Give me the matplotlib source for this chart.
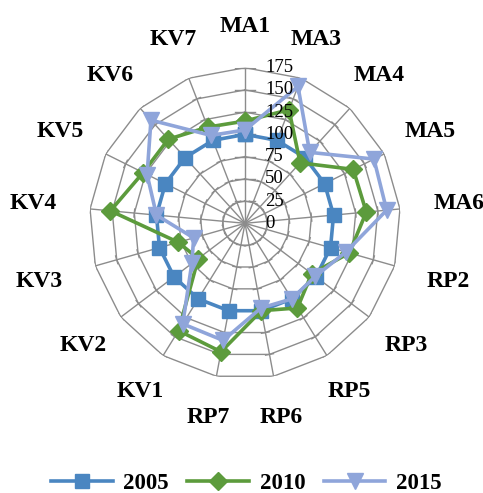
import numpy as np
import matplotlib
matplotlib.use("Agg")
import matplotlib.pyplot as plt
from matplotlib.lines import Line2D

categories = ["MA1", "MA3", "MA4", "MA5", "MA6", "RP2", "RP3", "RP5", "RP6",
              "RP7", "KV1", "KV2", "KV3", "KV4", "KV5", "KV6", "KV7"]
v2005 = [100, 100, 100, 100, 100, 100, 100, 100, 100, 100, 100, 100, 100, 100, 100, 100, 100]
v2010 = [115, 137, 92, 136, 137, 122, 94, 112, 100, 147, 142, 66, 78, 152, 128, 128, 116]
v2015 = [105, 165, 108, 162, 160, 118, 99, 100, 97, 134, 133, 75, 60, 100, 123, 157, 106]
series_names = ["2005", "2010", "2015"]
ticks = [0, 25, 50, 75, 100, 125, 150, 175]

colors = ["#4A86C1", "#5C9B3C", "#8FA5DA"]
markers = ["s", "D", "v"]
msizes = [10.5, 9, 11.5]
grid_c = "#8C8C8C"
serif = ["Liberation Serif", "DejaVu Serif"]

W, H = 483, 493
fig = plt.figure(figsize=(W / 100, H / 100), dpi=100)
cx, cy, R = 245.0, 223.3, 155.6
ax = fig.add_axes([(cx - R) / W, (H - cy - R) / H, 2 * R / W, 2 * R / H],
                  projection="polar")
ax.set_theta_zero_location("N")
ax.set_theta_direction(-1)
rmax = ticks[-1]
ax.set_ylim(0, rmax)
ax.set_xticks([])
ax.set_yticks([])
ax.grid(False)
ax.spines["polar"].set_visible(False)
ax.patch.set_visible(False)

n = len(categories)
theta = np.arange(n) * 2 * np.pi / n
theta_c = np.append(theta, theta[0])
px_per_unit = R / rmax

# polygon rings
for t in ticks[1:]:
    ax.plot(theta_c, [t] * (n + 1), color=grid_c, lw=1.0, zorder=1)
# spokes
for th in theta:
    ax.plot([th, th], [0, rmax], color=grid_c, lw=1.0, zorder=1)
# small tick marks across spokes at each ring
for i, th in enumerate(theta):
    half_px = 10 if i == 0 else 4
    d = half_px / px_per_unit
    for t in ticks[1:]:
        a = np.arctan2(d, t)
        rr = np.hypot(t, d)
        ax.plot([th - a, th + a], [rr, rr], color=grid_c, lw=1.0, zorder=1)

# series
for vals, c, m, ms, name in zip([v2005, v2010, v2015], colors, markers, msizes, series_names):
    vv = np.append(vals, vals[0])
    ax.plot(theta_c, vv, color=c, lw=2.6, marker=m, markersize=ms,
            markeredgecolor=c, markerfacecolor=c, zorder=3, label=name, clip_on=False)

# radial tick labels
for t in ticks:
    ax.annotate(str(t), xy=(0, t), xytext=(20, 0), textcoords="offset pixels",
                ha="left", va="center", fontsize=13.5, family=serif, color="black",
                annotation_clip=False, zorder=4)

# category labels
fig.canvas.draw()
renderer = fig.canvas.get_renderer()
edge = 189.0
for th, lab in zip(theta, categories):
    t = ax.annotate(lab, xy=(0, 0), xytext=(0, 0), textcoords="offset pixels",
                    ha="center", va="center", fontsize=17, fontweight="bold",
                    family=serif, annotation_clip=False)
    bb = t.get_window_extent(renderer)
    w2 = bb.width / 2
    h2 = 8.0
    s, c = abs(np.sin(th)), abs(np.cos(th))
    cand = []
    if s > 1e-6:
        cand.append(w2 / s)
    if c > 1e-6:
        cand.append(h2 / c)
    off = edge + min(cand)
    t.xyann = (off * np.sin(th), off * np.cos(th))

handles = [Line2D([0], [0], color=c, lw=2.6, marker=m, markersize=ms,
                  markeredgecolor=c, markerfacecolor=c)
           for c, m, ms in zip(colors, markers, msizes)]
fig.legend(handles, series_names, loc="center", bbox_to_anchor=(0.51, 0.02),
           ncol=3, frameon=False, handlelength=2.7, handletextpad=0.45,
           columnspacing=0.8, prop={"family": serif, "weight": "bold", "size": 16.5})

fig.savefig("out.png", dpi=100)
